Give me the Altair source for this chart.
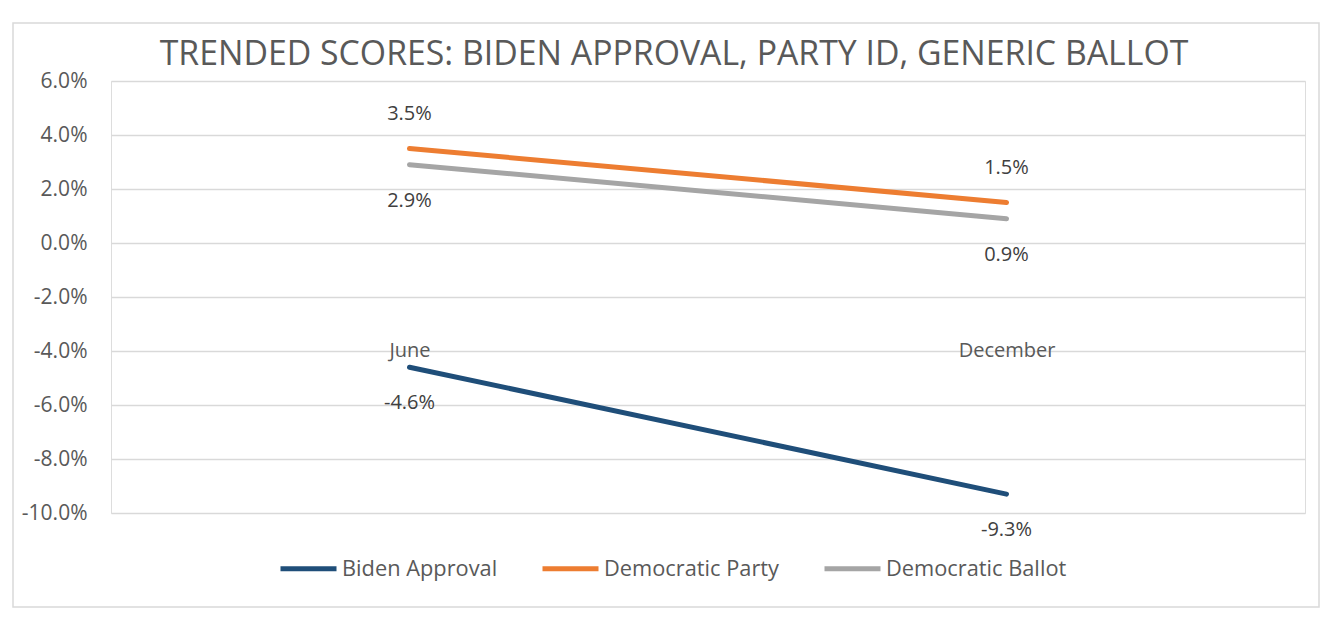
import altair as alt
import pandas as pd

# ---- data ----
months = ["June", "December"]
series_names = ["Biden Approval", "Democratic Party", "Democratic Ballot"]
biden_approval = [-0.046, -0.093]
democratic_party = [0.035, 0.015]
democratic_ballot = [0.029, 0.009]
labels_above = ["Democratic Party"]
colors = ["#1F4E79", "#ED7D31", "#A5A5A5"]
y_ticks = [-0.10, -0.08, -0.06, -0.04, -0.02, 0.0, 0.02, 0.04, 0.06]
title_text = "TRENDED SCORES: BIDEN APPROVAL, PARTY ID, GENERIC BALLOT"

rows = []
for name, vals in zip(series_names, [biden_approval, democratic_party, democratic_ballot]):
    for m, v in zip(months, vals):
        rows.append({"month": m, "series": name, "value": v})
df = pd.DataFrame(rows)

FONT = "Open Sans"
W, H = 1194, 432

x = alt.X(
    "month:N",
    sort=months,
    scale=alt.Scale(type="point", padding=0.5),
    axis=alt.Axis(
        title=None, domain=False, ticks=False, tickSize=0, grid=False,
        labelPadding=0, labelBaseline="middle", offset=-163,
        labelFont=FONT, labelFontSize=20, labelColor="#595959", labelAngle=0,
    ),
)
y = alt.Y(
    "value:Q",
    scale=alt.Scale(domain=[-0.10, 0.06], nice=False, zero=False),
    axis=alt.Axis(
        title=None, values=y_ticks, domain=False, ticks=False,
        labelPadding=24, labelFont=FONT, labelFontSize=21, labelColor="#595959",
        labelExpr="replace(format(datum.value, '.1%'), '\u2212', '-')",
        gridColor="#D9D9D9", gridWidth=1.5,
    ),
)
color = alt.Color(
    "series:N",
    scale=alt.Scale(domain=series_names, range=colors),
    legend=alt.Legend(
        title=None, orient="none", legendX=167, legendY=457, direction="horizontal",
        symbolType="stroke", symbolStrokeWidth=5, symbolSize=3136,
        labelFont=FONT, labelFontSize=21.8, labelColor="#595959", labelOffset=3,
        labelLimit=0, columnPadding=34, symbolOffset=0,
    ),
)

base = alt.Chart(df)

frame = alt.Chart(pd.DataFrame({"a": [0]})).mark_rect(
    fill=None, stroke="#D9D9D9", strokeWidth=1.5
).encode(
    x=alt.value(-98), x2=alt.value(1208), y=alt.value(-58), y2=alt.value(526)
)

lines = base.mark_line(strokeWidth=5, strokeCap="round").encode(
    x=x, y=y, color=color, detail="series:N"
)

label_text = alt.Text("lbl:N")
above = base.transform_filter(
    alt.FieldOneOfPredicate(field="series", oneOf=labels_above)
).transform_calculate(
    lbl="replace(format(datum.value, '.1%'), '\u2212', '-')"
).mark_text(dy=-35, font=FONT, fontSize=20, color="#404040", baseline="middle").encode(
    x=alt.X("month:N", sort=months), y="value:Q", text=label_text
)
below = base.transform_filter(
    ~alt.FieldOneOfPredicate(field="series", oneOf=labels_above)
).transform_calculate(
    lbl="replace(format(datum.value, '.1%'), '\u2212', '-')"
).mark_text(dy=36, font=FONT, fontSize=20, color="#404040", baseline="middle").encode(
    x=alt.X("month:N", sort=months), y="value:Q", text=label_text
)

chart = alt.layer(frame, lines, above, below).properties(
    width=W, height=H,
    autosize=alt.AutoSizeParams(type="none"),
    padding={"left": 103, "top": 73, "right": 22, "bottom": 104},
    title=alt.TitleParams(
        title_text, anchor="middle", baseline="alphabetic", offset=-77, dx=-34,
        font=FONT, fontSize=33.8, fontWeight="normal", color="#595959",
    ),
).configure_view(stroke=None).configure(background="white")

chart.save("out.html", embed_options={"renderer": "svg", "actions": False})
